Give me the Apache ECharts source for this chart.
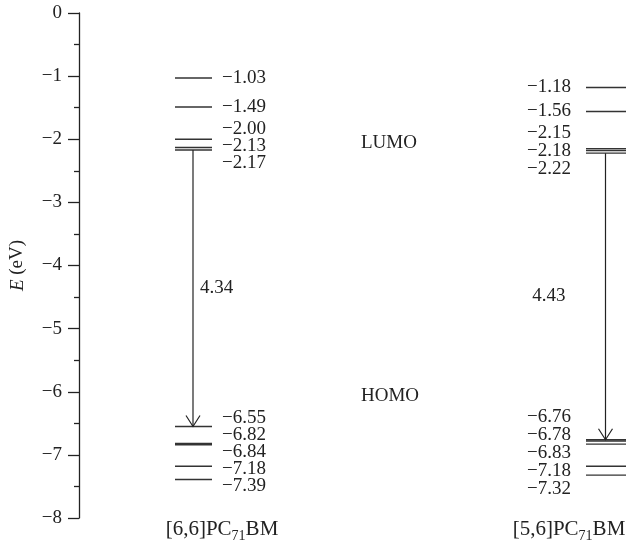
<!DOCTYPE html>
<html>
<head>
<meta charset="utf-8">
<script src="https://cdn.jsdelivr.net/npm/echarts@6/dist/echarts.min.js"></script>
<style>
  html, body { margin: 0; padding: 0; background: #fff; }
  #main { width: 626px; height: 548px; }
</style>
</head>
<body>
<div id="main"></div>
<script>
// 分子名称 (下标 71 用 rich 文本)
const molecules = ['[6,6]PC', '[5,6]PC']
const moleculeSub = '71'
const moleculeTail = 'BM'
// 能级数据 (eV)
const levels66 = [-1.03, -1.49, -2.00, -2.13, -2.17, -6.55, -6.82, -6.84, -7.18, -7.39]
const levels56 = [-1.18, -1.56, -2.15, -2.18, -2.22, -6.76, -6.78, -6.83, -7.18, -7.32]
// 带隙箭头: 起点(LUMO) 终点(HOMO) 数值
const gapFrom = [-2.17, -2.22]
const gapTo = [-6.55, -6.76]
const gapText = ['4.34', '4.43']
// 轨道标注
const bandNames = ['LUMO', 'HOMO']
const bandEnergy = [-2.06, -6.06]

// 布局 (x 轴单位 = 距 y 轴像素)
const colX = [114.5, 527]
const halfW = [18.5, 20]
const labelGap = [17, 18]
const FONT = '"Liberation Serif", "Times New Roman", serif'
const levelSets = [levels66, levels56]

const fmt = v => (v < 0 ? '−' : '') + Math.abs(v).toFixed(2)

// 标签防重叠: 重叠的标签成组, 以组内平均位置为中心等距排开
function spreadLabels(ys, gap) {
  const order = ys.map((y, i) => i).sort((a, b) => ys[a] - ys[b])
  const groups = order.map(i => ({ idx: [i], center: ys[i] }))
  let merged = true
  while (merged) {
    merged = false
    for (let g = 0; g < groups.length - 1; g++) {
      const a = groups[g], b = groups[g + 1]
      const aEnd = a.center + (a.idx.length - 1) * gap / 2
      const bStart = b.center - (b.idx.length - 1) * gap / 2
      if (bStart - aEnd < gap - 0.01) {
        const idx = a.idx.concat(b.idx)
        const center = idx.reduce((s, i) => s + ys[i], 0) / idx.length
        groups.splice(g, 2, { idx, center })
        merged = true
        break
      }
    }
  }
  const out = []
  groups.forEach(g => g.idx.forEach((i, j) => {
    out[i] = g.center + (j - (g.idx.length - 1) / 2) * gap
  }))
  return out
}

// 能级线 + 数值
function renderLevel(params, api) {
  const c = api.value(0), e = api.value(1), k = api.value(2)
  const p1 = api.coord([colX[c] - halfW[c], e])
  const p2 = api.coord([colX[c] + halfW[c], e])
  const ys = levelSets[c].map(v => api.coord([0, v])[1])
  const ly = spreadLabels(ys, labelGap[c])[k]
  const lx = c === 0 ? p2[0] + 10 : p1[0] - 15
  return {
    type: 'group',
    children: [
      { type: 'line', shape: { x1: p1[0], y1: p1[1], x2: p2[0], y2: p2[1] },
        style: { stroke: '#333', lineWidth: 1.4 } },
      { type: 'text', x: lx, y: ly,
        style: { text: fmt(e), align: c === 0 ? 'left' : 'right', verticalAlign: 'middle',
          font: '19px ' + FONT, fill: '#222' } }
    ]
  }
}

// 带隙箭头
function renderGap(params, api) {
  const c = api.value(0)
  const top = api.coord([colX[c] - 0.5, api.value(1)])
  const tip = api.coord([colX[c] - 0.5, api.value(2)])
  const mid = (top[1] + tip[1]) / 2
  return {
    type: 'group',
    children: [
      { type: 'line', shape: { x1: top[0], y1: top[1], x2: tip[0], y2: tip[1] },
        style: { stroke: '#222', lineWidth: 1.2 } },
      { type: 'polyline', shape: { points: [[tip[0] - 7, tip[1] - 11], tip, [tip[0] + 7, tip[1] - 11]] },
        style: { stroke: '#222', lineWidth: 1.2, fill: null } },
      { type: 'text', x: c === 0 ? tip[0] + 7 : tip[0] - 40, y: mid,
        style: { text: gapText[c], align: c === 0 ? 'left' : 'right', verticalAlign: 'middle',
          font: '19px ' + FONT, fill: '#222' } }
    ]
  }
}

// LUMO / HOMO 文字 与 分子名称
function renderText(params, api) {
  const i = params.dataIndex
  if (i < bandNames.length) {
    const p = api.coord([282, bandEnergy[i]])
    return { type: 'text', x: p[0], y: p[1],
      style: { text: bandNames[i], align: 'left', verticalAlign: 'middle', font: '19px ' + FONT, fill: '#222' } }
  }
  const c = i - bandNames.length
  const p = api.coord([[143, 490][c], -8])
  return { type: 'text', x: p[0], y: p[1] + 13,
    style: {
      text: '{a|' + molecules[c] + '}{s|' + moleculeSub + '}{a|' + moleculeTail + '}',
      align: 'center', verticalAlign: 'middle',
      rich: {
        a: { fontFamily: 'Liberation Serif', fontSize: 21, fill: '#222', verticalAlign: 'bottom', padding: [0, 0, 3, 0] },
        s: { fontFamily: 'Liberation Serif', fontSize: 14, fill: '#222', verticalAlign: 'bottom' }
      }
    }
  }
}

const levelData = []
levelSets.forEach((list, c) => list.forEach((v, k) => levelData.push([c, v, k])))
const gapData = gapFrom.map((v, c) => [c, v, gapTo[c]])

const myChart = echarts.init(document.querySelector('#main'))
const option = {
  animation: false,
  grid: { left: 79, right: 0, top: 13, bottom: 30 },
  xAxis: { type: 'value', min: 0, max: 547, show: false },
  yAxis: {
    type: 'value', min: -8, max: 0, interval: 1,
    name: '{i|E} (eV)', nameLocation: 'middle', nameRotate: 90, nameGap: 52,
    nameTextStyle: { fontFamily: FONT, fontSize: 19, color: '#222',
      rich: { i: { fontFamily: 'Liberation Serif', fontStyle: 'italic', fontSize: 19, color: '#222' } } },
    axisLine: { show: true, lineStyle: { color: '#222', width: 1.3 } },
    axisTick: { show: true, length: 11, lineStyle: { color: '#222', width: 1.3 } },
    minorTick: { show: true, splitNumber: 2, length: 5, lineStyle: { color: '#222', width: 1.3 } },
    splitLine: { show: false },
    axisLabel: { fontFamily: FONT, fontSize: 19, color: '#222', margin: 17,
      formatter: v => (v < 0 ? '−' : '') + Math.abs(v) }
  },
  series: [
    { type: 'custom', renderItem: renderLevel, data: levelData, clip: false, silent: true },
    { type: 'custom', renderItem: renderGap, data: gapData, clip: false, silent: true },
    { type: 'custom', renderItem: renderText, data: [[0, 0], [0, 0], [0, 0], [0, 0]], clip: false, silent: true }
  ]
}
myChart.setOption(option)
</script>
</body>
</html>
